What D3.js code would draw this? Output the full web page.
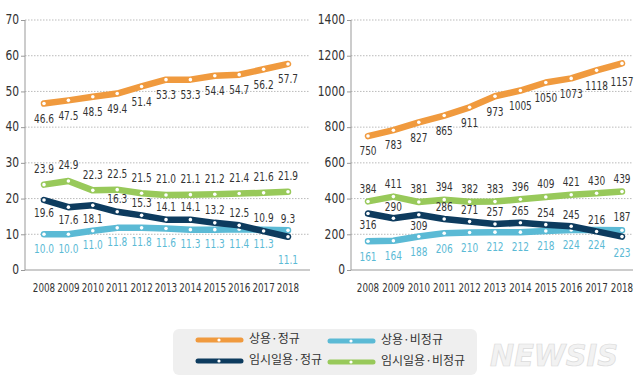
<!DOCTYPE html>
<html>
<head>
<meta charset="utf-8">
<script src="https://cdn.jsdelivr.net/npm/d3@7"></script>
<style>
body { margin: 0; background: #fff; }
text { font-family: "DejaVu Sans Condensed", "DejaVu Sans", sans-serif; }
.legend text { font-family: "Noto Sans CJK KR", sans-serif; }
</style>
</head>
<body>
<div id="chart"></div>
<script>
var years = ["2008","2009","2010","2011","2012","2013","2014","2015","2016","2017","2018"];
var seriesNames = ["상용·정규", "상용·비정규", "임시일용·정규", "임시일용·비정규"];
var colors = ["#f09a3e", "#5bbad5", "#0d3b5e", "#98c95a"];

// left panel (%)
var leftRegular = [46.6,47.5,48.5,49.4,51.4,53.3,53.3,54.4,54.7,56.2,57.7];
var leftNonRegular = [10.0,10.0,11.0,11.8,11.8,11.6,11.3,11.3,11.4,11.3,11.1];
var leftTempRegular = [19.6,17.6,18.1,16.3,15.3,14.1,14.1,13.2,12.5,10.9,9.3];
var leftTempNonRegular = [23.9,24.9,22.3,22.5,21.5,21.0,21.1,21.2,21.4,21.6,21.9];
var leftTicks = [0,10,20,30,40,50,60,70];

// right panel
var rightRegular = [750,783,827,865,911,973,1005,1050,1073,1118,1157];
var rightNonRegular = [161,164,188,206,210,212,212,218,224,224,223];
var rightTempRegular = [316,290,309,286,271,257,265,254,245,216,187];
var rightTempNonRegular = [384,411,381,394,382,383,396,409,421,430,439];
var rightTicks = [0,200,400,600,800,1000,1200,1400];

var svg = d3.select("#chart").append("svg")
    .attr("width", 640)
    .attr("height", 384);

// squeeze text horizontally to mimic the condensed face
function squeeze(sel, fx, fy, k) {
    sel.attr("x", 0).attr("y", 0)
        .attr("transform", (d, i) => `translate(${fx(d, i)},${fy(d, i)}) scale(${k},1)`);
}

function drawPanel(p) {
    var x = d3.scalePoint().domain(years).range([p.x0, p.x1]);
    var y = d3.scaleLinear().domain([0, p.max]).range([270, 20]);
    var g = svg.append("g");

    // grid
    g.selectAll(".grid")
        .data(p.ticks.filter(t => t > 0))
        .join("line")
        .attr("x1", p.axisX).attr("x2", p.gridEnd)
        .attr("y1", d => y(d)).attr("y2", d => y(d))
        .attr("stroke", "#aaa")
        .attr("stroke-width", 0.8)
        .attr("stroke-dasharray", "1.5,1.5");
    g.append("line")
        .attr("x1", p.axisX).attr("x2", p.gridEnd)
        .attr("y1", y(0)).attr("y2", y(0))
        .attr("stroke", "#999").attr("stroke-width", 1);

    var yAxis = d3.axisLeft(y).tickValues(p.ticks).tickFormat(d3.format("d")).tickSize(4).tickPadding(2);
    var ya = g.append("g")
        .attr("transform", `translate(${p.axisX},0)`)
        .call(yAxis);
    ya.select(".domain").attr("stroke", "#999").attr("d", `M0,${y(0)}V${y(p.max)}`);
    ya.selectAll(".tick line").attr("stroke", "#999");
    ya.selectAll("text")
        .style("font-size", "14px").style("fill", "#333")
        .attr("dy", null).attr("dominant-baseline", "middle")
        .attr("transform", "translate(-6,0) scale(0.85,1)").attr("x", 0);

    // year labels
    var yr = g.selectAll(".yr")
        .data(years)
        .join("text")
        .attr("text-anchor", "middle")
        .style("font-size", "12.5px")
        .style("fill", "#333")
        .text(d => d);
    squeeze(yr, d => x(d), d => 292, 0.78);

    var line = d3.line().x((d, i) => x(years[i])).y(d => y(d));

    p.series.forEach(function(s) {
        g.append("path")
            .datum(s.values)
            .attr("d", line)
            .attr("fill", "none")
            .attr("stroke", s.color)
            .attr("stroke-width", 6.5)
            .attr("stroke-linejoin", "round")
            .attr("stroke-linecap", "round");
        g.selectAll(null)
            .data(s.values)
            .join("circle")
            .attr("cx", (d, i) => x(years[i]))
            .attr("cy", d => y(d))
            .attr("r", 1.8)
            .attr("fill", "#fff");
    });

    p.series.forEach(function(s) {
        var lab = g.selectAll(null)
            .data(s.values)
            .join("text")
            .attr("text-anchor", "middle")
            .attr("dominant-baseline", "middle")
            .style("font-size", "12.5px")
            .style("fill", s.labelColor)
            .text(d => p.fmt(d));
        squeeze(lab, (d, i) => x(years[i]), (d, i) => y(d) + s.offset(i), 0.8);
    });
}

drawPanel({
    x0: 44, x1: 288, axisX: 25, gridEnd: 310, max: 70, ticks: leftTicks,
    fmt: d3.format(".1f"),
    series: [
        {values: leftNonRegular, color: colors[1], labelColor: "#5bbad5", offset: i => i == 10 ? 30 : 15},
        {values: leftTempNonRegular, color: colors[3], labelColor: "#333", offset: i => -15},
        {values: leftTempRegular, color: colors[2], labelColor: "#333", offset: i => i < 3 ? 14 : (i == 10 ? -17 : -12)},
        {values: leftRegular, color: colors[0], labelColor: "#333", offset: i => 16}
    ]
});

drawPanel({
    x0: 368, x1: 622, axisX: 351, gridEnd: 633, max: 1400, ticks: rightTicks,
    fmt: d3.format("d"),
    series: [
        {values: rightNonRegular, color: colors[1], labelColor: "#5bbad5", offset: i => i == 10 ? 24 : 16},
        {values: rightTempNonRegular, color: colors[3], labelColor: "#333", offset: i => -12},
        {values: rightTempRegular, color: colors[2], labelColor: "#333", offset: i => (i == 0 || i == 2) ? 12 : (i == 10 ? -19 : -11)},
        {values: rightRegular, color: colors[0], labelColor: "#333", offset: i => i == 10 ? 19 : 16}
    ]
});

// legend
var legend = svg.append("g").attr("class", "legend");
legend.append("rect")
    .attr("x", 173).attr("y", 329)
    .attr("width", 304).attr("height", 46)
    .attr("rx", 6)
    .attr("fill", "#efefef");
var legendPos = [[198, 340], [330, 341], [198, 361], [330, 362]];
var legendColors = [colors[0], colors[1], colors[2], colors[3]];
var legendLabels = ["상용·정규", "상용·비정규", "임시일용·정규", "임시일용·비정규"];
legendLabels.forEach(function(name, k) {
    var pos = legendPos[k];
    legend.append("line")
        .attr("x1", pos[0]).attr("x2", pos[0] + 43)
        .attr("y1", pos[1]).attr("y2", pos[1])
        .attr("stroke", legendColors[k])
        .attr("stroke-width", 5)
        .attr("stroke-linecap", "round");
    legend.append("circle")
        .attr("cx", pos[0] + 21).attr("cy", pos[1])
        .attr("r", 1.6).attr("fill", "#fff");
    legend.append("text")
        .attr("x", pos[0] + 51).attr("y", pos[1])
        .attr("dominant-baseline", "middle")
        .style("font-size", "12px")
        .style("fill", "#333")
        .text(name);
});

svg.append("text")
    .attr("x", 490).attr("y", 366)
    .style("font-family", "'DejaVu Sans', sans-serif")
    .style("font-size", "30px")
    .style("font-weight", "bold")
    .style("font-style", "italic")
    .attr("textLength", 128)
    .attr("lengthAdjust", "spacingAndGlyphs")
    .style("fill", "#f2f2f2")
    .style("stroke", "#dadada")
    .style("stroke-width", 0.7)
    .text("NEWSIS");
</script>
</body>
</html>
